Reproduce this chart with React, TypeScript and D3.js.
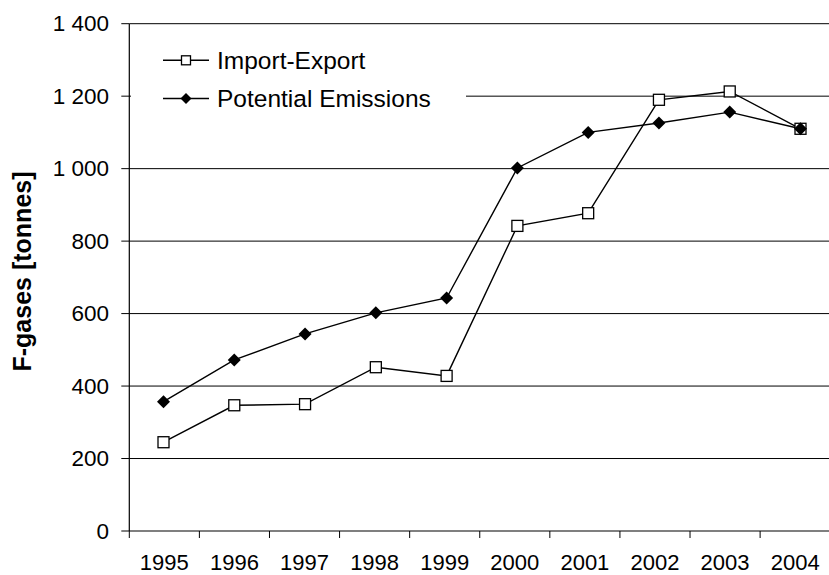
import React from "react";
import * as d3 from "d3";

const years = ["1995","1996","1997","1998","1999","2000","2001","2002","2003","2004"];
const importExport = [245, 347, 350, 452, 428, 842, 877, 1190, 1213, 1110];
const potentialEmissions = [357, 472, 544, 602, 643, 1002, 1100, 1126, 1156, 1110];
const yTicks = [0, 200, 400, 600, 800, 1000, 1200, 1400];
const seriesNames = ["Import-Export", "Potential Emissions"];

const W = 829, H = 575;
const left = 129.3, right = 830.2, top = 23.7, bottom = 531;
const FONT = "'Liberation Sans', Arial, Helvetica, sans-serif";

export default function App() {
  const xBand = d3.scaleBand().domain(years).range([left, right]).paddingInner(0).paddingOuter(0);
  const xPt = d3.scalePoint().domain(years).range([163.5, 800.5]);
  const y = d3.scaleLinear().domain([0, 1400]).range([bottom, top]);
  const fmt = (v: number) => d3.format(",")(v).replace(/,/g, " ");
  const line = d3.line<number>().x((_, i) => xPt(years[i]) as number).y((v) => y(v));

  const sq = (cx: number, cy: number, s: number, key?: any) => (
    <rect key={key} x={cx - s / 2} y={cy - s / 2} width={s} height={s} fill="#fff" stroke="#000" strokeWidth={1.3} />
  );
  const dia = (cx: number, cy: number, r: number, key?: any) => (
    <path key={key} d={`M${cx},${cy - r}L${cx + r},${cy}L${cx},${cy + r}L${cx - r},${cy}Z`} fill="#000" />
  );

  const tickXs = years.map((yr) => xBand(yr) as number).concat([right]);

  return (
    <svg width={W} height={H} style={{ position: "absolute", left: 0, top: 0, background: "#fff" }} fontFamily={FONT}>
      <rect x={0} y={0} width={W} height={H} fill="#fff" />
      {yTicks.filter((t) => t > 0).map((t) => (
        <line key={t} x1={left} x2={right} y1={y(t)} y2={y(t)} stroke="#000" strokeWidth={1} />
      ))}
      <rect x={131} y={36} width={335} height={82} fill="#fff" />
      <line x1={left} x2={left} y1={top} y2={bottom} stroke="#000" strokeWidth={1.2} />
      <line x1={left} x2={right} y1={bottom} y2={bottom} stroke="#000" strokeWidth={1.2} />
      {yTicks.map((t) => (
        <g key={t}>
          <line x1={left - 8} x2={left} y1={y(t)} y2={y(t)} stroke="#000" strokeWidth={1} />
          <text x={109} y={y(t)} textAnchor="end" dominantBaseline="central" fontSize={22.5} fill="#000">
            {fmt(t)}
          </text>
        </g>
      ))}
      {tickXs.map((tx, i) => (
        <line key={i} x1={tx} x2={tx} y1={bottom} y2={bottom + 7} stroke="#000" strokeWidth={1} />
      ))}
      {years.map((yr) => (
        <text key={yr} x={(xBand(yr) as number) + xBand.bandwidth() / 2} y={570} textAnchor="middle" fontSize={22} fill="#000">
          {yr}
        </text>
      ))}
      <text transform={`translate(31,271.5) rotate(-90)`} textAnchor="middle" fontSize={25} fontWeight="bold" fill="#000">
        F-gases [tonnes]
      </text>
      <path d={line(importExport) || ""} fill="none" stroke="#000" strokeWidth={1.4} />
      <path d={line(potentialEmissions) || ""} fill="none" stroke="#000" strokeWidth={1.4} />
      {importExport.map((v, i) => sq(xPt(years[i]) as number, y(v), 11, "s" + i))}
      {potentialEmissions.map((v, i) => dia(xPt(years[i]) as number, y(v), 6.5, "d" + i))}
      <line x1={163} x2={209} y1={60.3} y2={60.3} stroke="#000" strokeWidth={1.4} />
      {sq(186, 60.3, 9)}
      <text x={217} y={60} dominantBaseline="central" fontSize={24.5} fill="#000">{seriesNames[0]}</text>
      <line x1={163} x2={209} y1={98.5} y2={98.5} stroke="#000" strokeWidth={1.4} />
      {dia(186, 98.5, 5.5)}
      <text x={217} y={98} dominantBaseline="central" fontSize={24.5} fill="#000">{seriesNames[1]}</text>
    </svg>
  );
}
